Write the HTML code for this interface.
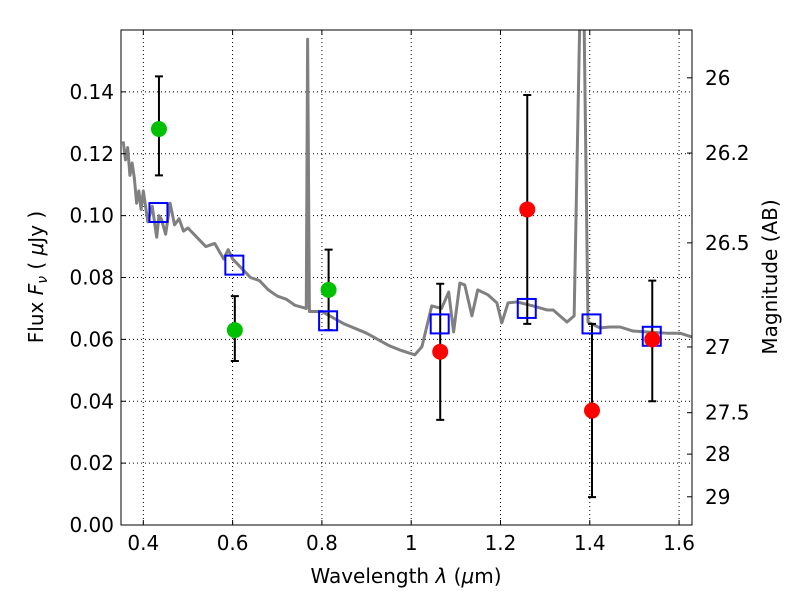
<!DOCTYPE html>
<html><head><meta charset="utf-8"><style>
html,body{margin:0;padding:0;background:#fff;}
svg text{font-family:"DejaVu Sans","Liberation Sans",sans-serif;}
</style></head><body>
<svg id="chart" width="800" height="600" xmlns="http://www.w3.org/2000/svg">
<defs><clipPath id="pc"><rect x="121" y="30" width="571" height="495"/></clipPath></defs>
<rect width="800" height="600" fill="#fff"/>
<g id="grid"></g>
<g id="marks" clip-path="url(#pc)"></g>
<rect x="121" y="30" width="571" height="495" fill="none" stroke="#000" stroke-width="1"/>
<g id="axes"></g>
<text x="406" y="583" font-size="20" text-anchor="middle">Wavelength  <tspan font-style="italic">λ</tspan> (<tspan font-style="italic">μ</tspan>m)</text>
<text transform="translate(43,277) rotate(-90)" font-size="20" text-anchor="middle">Flux  <tspan font-style="italic">F</tspan><tspan font-style="italic" font-size="14" dy="4">ν</tspan><tspan dy="-4">  (  </tspan><tspan font-style="italic">μ</tspan>Jy )</text>
<text transform="translate(777,277) rotate(-90)" font-size="20" text-anchor="middle">Magnitude (AB)</text>
</svg>
<script>
const xTicks=[0.4,0.6,0.8,1.0,1.2,1.4,1.6];
const xTickLabels=["0.4","0.6","0.8","1","1.2","1.4","1.6"];
const yTicks=[0,0.02,0.04,0.06,0.08,0.10,0.12,0.14];
const yTickLabels=["0.00","0.02","0.04","0.06","0.08","0.10","0.12","0.14"];
const magTicks=[26,26.2,26.5,27,27.5,28,29];
const magTickLabels=["26","26.2","26.5","27","27.5","28","29"];
const specLam=[0.355,0.36,0.365,0.37,0.375,0.38,0.385,0.39,0.395,0.40,0.41,0.42,0.43,0.435,0.44,0.45,0.46,0.47,0.48,0.49,0.50,0.52,0.54,0.56,0.58,0.59,0.60,0.62,0.64,0.66,0.68,0.70,0.72,0.74,0.765,0.768,0.772,0.775,0.80,0.85,0.90,0.95,0.974,1.008,1.024,1.046,1.068,1.084,1.095,1.109,1.12,1.136,1.149,1.172,1.192,1.203,1.217,1.237,1.273,1.304,1.318,1.349,1.365,1.378,1.387,1.396,1.423,1.445,1.468,1.497,1.528,1.573,1.602,1.629];
const specFlux=[0.124,0.118,0.122,0.113,0.117,0.112,0.104,0.108,0.102,0.108,0.098,0.103,0.093,0.100,0.099,0.094,0.104,0.097,0.099,0.095,0.096,0.093,0.090,0.091,0.086,0.089,0.086,0.083,0.080,0.079,0.076,0.074,0.073,0.071,0.070,0.157,0.069,0.069,0.069,0.065,0.062,0.058,0.0566,0.055,0.0576,0.0708,0.070,0.0753,0.0624,0.0782,0.0776,0.0676,0.076,0.0744,0.0718,0.0653,0.0718,0.0721,0.0708,0.0695,0.0695,0.0656,0.0676,0.166,0.166,0.0656,0.0637,0.064,0.064,0.0627,0.0624,0.062,0.062,0.0608];
const greenLam=[0.435,0.605,0.815];
const greenFlux=[0.128,0.063,0.076];
const greenLo=[0.113,0.053,0.063];
const greenHi=[0.145,0.074,0.089];
const redLam=[1.065,1.26,1.405,1.54];
const redFlux=[0.056,0.102,0.037,0.060];
const redLo=[0.034,0.065,0.009,0.040];
const redHi=[0.078,0.139,0.065,0.079];
const modelLam=[0.435,0.605,0.815,1.065,1.26,1.405,1.54];
const modelFlux=[0.101,0.084,0.066,0.065,0.070,0.065,0.061];

const X0=121,X1=692,Y0=525,Y1=30,xmin=0.35,xmax=1.629,ymin=0,ymax=0.16;
const sx=v=>X0+(v-xmin)/(xmax-xmin)*(X1-X0);
const sy=v=>Y0-(v-ymin)/(ymax-ymin)*(Y0-Y1);
const NS="http://www.w3.org/2000/svg";
function mk(tag,attrs,parent){const e=document.createElementNS(NS,tag);for(const k in attrs)e.setAttribute(k,attrs[k]);parent.appendChild(e);return e;}
const grid=document.getElementById('grid'),marks=document.getElementById('marks'),axes=document.getElementById('axes');
xTicks.forEach((t,i)=>{const x=sx(t);
 const g=mk('line',{x1:x,x2:x,y1:Y1,y2:Y0,stroke:'#000','stroke-dasharray':'1,3','stroke-width':1},grid);
 
 mk('line',{x1:x,x2:x,y1:Y0,y2:Y0-5,stroke:'#000'},axes);mk('line',{x1:x,x2:x,y1:Y1,y2:Y1+5,stroke:'#000'},axes);
 const tx=mk('text',{x:x,y:Y0+25,'font-size':20,'text-anchor':'middle'},axes);tx.textContent=xTickLabels[i];
 });
yTicks.forEach((t,i)=>{const y=sy(t);
 if(t>0){const g=mk('line',{x1:X0,x2:X1,y1:y,y2:y,stroke:'#000','stroke-dasharray':'1,3','stroke-width':1},grid);
 }
 mk('line',{x1:X0,x2:X0+5,y1:y,y2:y,stroke:'#000'},axes);
 const tx=mk('text',{x:X0-7,y:y+7,'font-size':20,'text-anchor':'end'},axes);tx.textContent=yTickLabels[i];
 });
magTicks.forEach((m,i)=>{const f=Math.pow(10,(23.9-m)/2.5);const y=sy(f);
 mk('line',{x1:X1,x2:X1-5,y1:y,y2:y,stroke:'#000'},axes);
 const tx=mk('text',{x:X1+13,y:y+7,'font-size':20,'text-anchor':'start'},axes);tx.textContent=magTickLabels[i];
 });
const sp=mk('polyline',{points:specLam.map((l,i)=>sx(l)+','+sy(specFlux[i])).join(' '),fill:'none',stroke:'#808080','stroke-width':3,'stroke-linejoin':'round'},marks);

function errs(L,F,lo,hi,color,name){L.forEach((l,i)=>{const x=sx(l);
 const e=mk('path',{d:`M${x},${sy(lo[i])}V${sy(hi[i])}M${x-4},${sy(lo[i])}H${x+4}M${x-4},${sy(hi[i])}H${x+4}`,stroke:'#000','stroke-width':2,fill:'none'},marks);
 });}
errs(greenLam,greenFlux,greenLo,greenHi,'#00c000','green');
errs(redLam,redFlux,redLo,redHi,'red','red');
modelLam.forEach((l,i)=>{const r=mk('rect',{x:sx(l)-9.5,y:sy(modelFlux[i])-9.5,width:18,height:19,fill:'none',stroke:'#0000ff','stroke-width':2},marks);
 });
greenLam.forEach((l,i)=>{const c=mk('circle',{cx:sx(l),cy:sy(greenFlux[i]),r:8,fill:'#00c000'},marks);
 });
redLam.forEach((l,i)=>{const c=mk('circle',{cx:sx(l),cy:sy(redFlux[i]),r:8,fill:'#ff0000'},marks);
 });
</script>
</body></html>
